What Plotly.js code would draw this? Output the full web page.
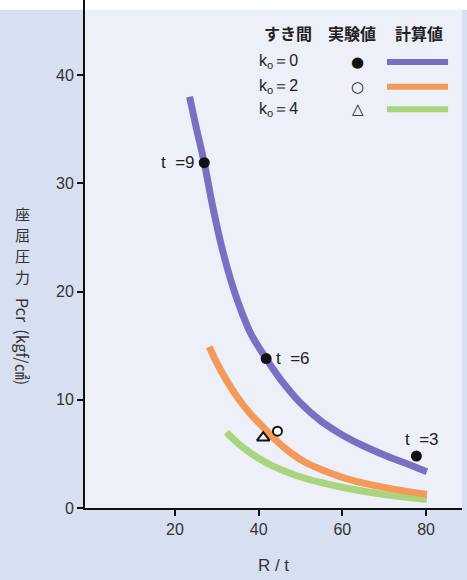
<!DOCTYPE html>
<html>
<head>
<meta charset="utf-8">
<script src="https://cdn.plot.ly/plotly-3.0.1.min.js"></script>
<style>html,body{margin:0;padding:0;background:#d6e0f1;}#chart{width:467px;height:580px;}</style>
</head>
<body>
<div id="chart"></div>
<script>
// Calculated curves (R/t vs Pcr)
const k0_x = [23.5, 25, 27, 29, 31, 33, 35, 38, 41.8, 45, 50, 55, 60, 65, 70, 75, 80.2];
const k0_y = [38.0, 35.3, 31.9, 27.9, 24.4, 21.5, 19.1, 16.2, 13.8, 12.0, 9.7, 8.0, 6.75, 5.75, 4.9, 4.15, 3.35];
const k2_x = [28.2, 30, 32, 34.8, 38, 41, 44, 47, 51, 56, 62, 70, 80.2];
const k2_y = [14.9, 13.4, 12.0, 10.3, 8.7, 7.5, 6.3, 5.3, 4.25, 3.4, 2.6, 1.9, 1.25];
const k4_x = [32.3, 35, 38, 42, 46, 51, 56, 62, 70, 80.2];
const k4_y = [7.0, 6.0, 5.1, 4.15, 3.45, 2.75, 2.25, 1.75, 1.25, 0.8];
// Experimental values
const exp0_x = [27.0, 41.8, 77.7];
const exp0_y = [31.9, 13.8, 4.8];
const exp0_lbl = ["t  =9", "t  =6", "t  =3"];
const exp2_x = [44.5];
const exp2_y = [7.1];
const exp4_x = [41.1];
const exp4_y = [6.5];
// Axis ticks
const xTicks = [20, 40, 60, 80];
const yTicks = [0, 10, 20, 30, 40];
// Legend
const legHeader = ["すき間", "実験値", "計算値"];
const legRows = ["k<sub>o</sub>＝0", "k<sub>o</sub>＝2", "k<sub>o</sub>＝4"];
const legSymbols = ["●", "○", "△"];
// Y axis title (vertical writing)
const yTitleCJK = ["座", "屈", "圧", "力"];
const yTitleLatin = "Pcr  (kgf/㎠)";

const cPurple = "#7a70c2", cOrange = "#f4995a", cGreen = "#a8d57e";
const font = "Liberation Sans, Arial, sans-serif";
const cjk = "Noto Sans CJK JP";

const traces = [
  {x: k4_x, y: k4_y, mode: "lines", line: {color: cGreen, width: 7, shape: "spline"}},
  {x: k2_x, y: k2_y, mode: "lines", line: {color: cOrange, width: 7, shape: "spline"}},
  {x: k0_x, y: k0_y, mode: "lines", line: {color: cPurple, width: 7, shape: "spline"}},
  {x: exp0_x, y: exp0_y, mode: "markers", marker: {color: "#111", size: 11, symbol: "circle"}},
  {x: exp2_x, y: exp2_y, mode: "markers", marker: {color: "#fff", size: 9, symbol: "circle", line: {color: "#111", width: 2}}},
  {x: exp4_x, y: exp4_y, mode: "markers", marker: {color: "#111", size: 11, symbol: "triangle-up-open", line: {color: "#111", width: 2}}}
];

const ann = [];
const lblPos = [
  {xanchor: "right", yanchor: "middle", xshift: -7, yshift: 0},
  {xanchor: "left", yanchor: "middle", xshift: 8, yshift: 0},
  {xanchor: "center", yanchor: "bottom", xshift: 6, yshift: 5}
];
exp0_lbl.forEach((t, i) => ann.push(Object.assign({
  x: exp0_x[i], y: exp0_y[i], xref: "x", yref: "y", text: t, showarrow: false,
  font: {family: font, size: 17, color: "#222"}
}, lblPos[i])));

const hx = [0.538, 0.708, 0.886];
legHeader.forEach((t, i) => ann.push({
  x: hx[i], y: 0.935, xref: "paper", yref: "paper", text: t, showarrow: false,
  font: {family: cjk, size: 16, color: "#222", weight: 700}, xanchor: "center", yanchor: "middle"
}));
const ry = [0.878, 0.829, 0.785];
legRows.forEach((t, i) => {
  ann.push({x: 0.456, y: ry[i], xref: "paper", yref: "paper", text: t, showarrow: false,
    font: {family: font, size: 16, color: "#222"}, xanchor: "left", yanchor: "middle"});
  ann.push({x: 0.724, y: ry[i], xref: "paper", yref: "paper", text: legSymbols[i], showarrow: false,
    font: {family: "DejaVu Sans", size: 15, color: "#111"}, xanchor: "center", yanchor: "middle"});
});
// y axis title: upright CJK characters stacked, Latin part rotated
yTitleCJK.forEach((ch, i) => ann.push({
  x: -0.165, y: 0.0, xref: "paper", yref: "paper", yshift: 508 - (213 + i * 21), text: ch, showarrow: false,
  font: {family: cjk, size: 15, color: "#333"}, xanchor: "center", yanchor: "middle"
}));
ann.push({x: -0.165, y: 0.327, xref: "paper", yref: "paper", text: yTitleLatin, showarrow: false, textangle: 90,
  font: {family: cjk, size: 16, color: "#333"}, xanchor: "center", yanchor: "middle"});

const legCols = [cPurple, cOrange, cGreen];
const shapes = [
  {type: "rect", xref: "paper", yref: "paper", x0: -0.3, x1: 1.1, y0: 0.981, y1: 1.0, fillcolor: "#ffffff", line: {width: 0}, layer: "below"}
];
ry.forEach((y, i) => shapes.push({type: "line", xref: "paper", yref: "paper", x0: 0.801, x1: 0.963, y0: y, y1: y,
  line: {color: legCols[i], width: 6}}));

const layout = {
  width: 467, height: 580,
  margin: {l: 85, r: 5, t: 0, b: 72},
  paper_bgcolor: "#d6e0f1", plot_bgcolor: "#edeff9",
  showlegend: false,
  font: {family: font, size: 16, color: "#333"},
  xaxis: {range: [-1.5, 88.6], tickvals: xTicks, ticks: "outside", ticklen: 6, tickwidth: 2, tickcolor: "#111",
    showline: true, linecolor: "#111", linewidth: 2, showgrid: false, zeroline: false,
    tickfont: {family: font, size: 16, color: "#333"},
    title: {text: "R / t", font: {family: font, size: 17, color: "#333"}, standoff: 22}},
  yaxis: {range: [0, 46.93], tickvals: yTicks, ticks: "outside", ticklen: 6, tickwidth: 2, tickcolor: "#111",
    showline: true, linecolor: "#111", linewidth: 2, showgrid: false, zeroline: false,
    tickfont: {family: font, size: 16, color: "#333"}},
  annotations: ann,
  shapes: shapes
};
Plotly.newPlot("chart", traces, layout, {displayModeBar: false});
</script>
</body>
</html>
